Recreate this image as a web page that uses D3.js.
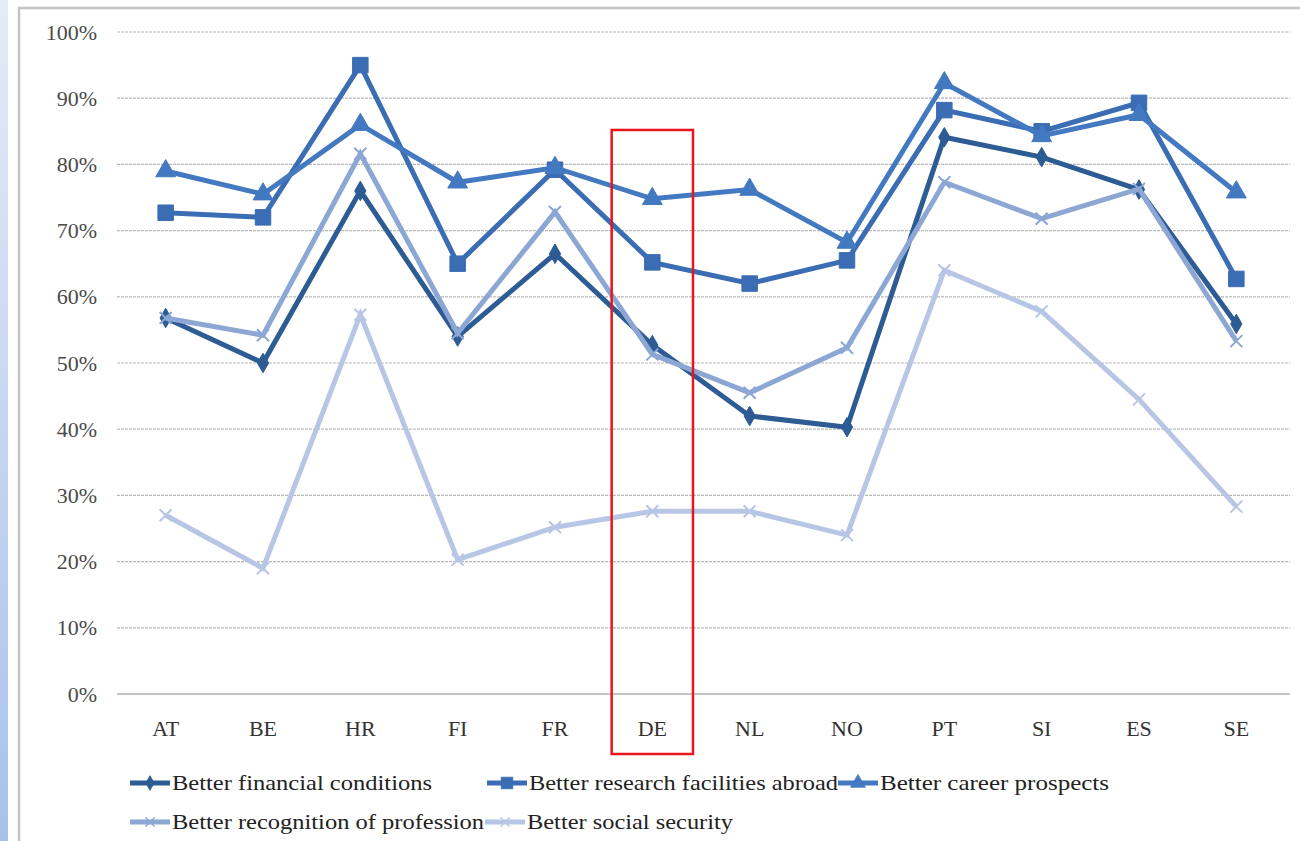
<!DOCTYPE html>
<html>
<head>
<meta charset="utf-8">
<script src="https://cdn.jsdelivr.net/npm/d3@7"></script>
<style>
  html, body { margin: 0; padding: 0; background: #fff; }
  svg { display: block; }
</style>
</head>
<body>
<svg id="chart" width="1300" height="841"></svg>
<script>
// Countries along the x axis
const countries = ["AT", "BE", "HR", "FI", "FR", "DE", "NL", "NO", "PT", "SI", "ES", "SE"];

// Share of respondents per motive (percent)
const financial   = [56.8, 50.0, 76.0, 54.0, 66.5, 52.7, 42.0, 40.3, 84.1, 81.1, 76.2, 55.9];
const research    = [72.7, 72.0, 95.0, 65.0, 79.2, 65.2, 62.0, 65.5, 88.2, 85.0, 89.3, 62.7];
const career      = [79.0, 75.5, 86.0, 77.3, 79.5, 74.8, 76.2, 68.2, 92.3, 84.3, 87.5, 75.8];
const recognition = [56.8, 54.2, 81.6, 54.5, 72.8, 51.3, 45.5, 52.3, 77.3, 71.8, 76.3, 53.3];
const social      = [27.0, 19.0, 57.3, 20.3, 25.2, 27.6, 27.6, 24.0, 64.0, 57.8, 44.5, 28.3];

const seriesNames = [
  "Better financial conditions",
  "Better research facilities abroad",
  "Better career prospects",
  "Better recognition of profession",
  "Better social security"
];
const yTicks = [0, 10, 20, 30, 40, 50, 60, 70, 80, 90, 100];
const highlighted = "DE";

// Pick the first installed serif face; fall back to the generic family
function pickFont(candidates, fallback) {
  const ctx = document.createElement("canvas").getContext("2d");
  const sample = "Better recognition of profession 100%";
  ctx.font = "40px monospace";
  const base = ctx.measureText(sample).width;
  for (const f of candidates) {
    ctx.font = `40px "${f}", monospace`;
    if (Math.abs(ctx.measureText(sample).width - base) > 0.5) return `"${f}", ${fallback}`;
  }
  return fallback;
}
const FONT = pickFont(["Liberation Serif", "Times New Roman", "Tinos", "DejaVu Serif", "Noto Serif", "FreeSerif", "Nimbus Roman"], "serif");

const series = [
  { name: seriesNames[0], values: financial,   color: "#2d5b93", marker: "diamond" },
  { name: seriesNames[1], values: research,    color: "#3a6db3", marker: "square" },
  { name: seriesNames[2], values: career,      color: "#4279c0", marker: "triangle" },
  { name: seriesNames[3], values: recognition, color: "#8ca7d4", marker: "cross" },
  { name: seriesNames[4], values: social,      color: "#b8c6e5", marker: "cross" }
];

const svg = d3.select("#chart");
const W = 1300, H = 841;

// Side strip and frame
const defs = svg.append("defs");
const grad = defs.append("linearGradient").attr("id", "strip")
  .attr("x1", 0).attr("y1", 0).attr("x2", 0).attr("y2", 1);
grad.append("stop").attr("offset", "0%").attr("stop-color", "#e4ebf7");
grad.append("stop").attr("offset", "100%").attr("stop-color", "#a9c1ea");
svg.append("rect").attr("x", 0).attr("y", 0).attr("width", 8).attr("height", H).attr("fill", "url(#strip)");
svg.append("path").attr("d", `M19,${H} V8 H${W}`)
  .attr("fill", "none").attr("stroke", "#c4c4c4").attr("stroke-width", 2.5);

const margin = { left: 117, right: 15, top: 32, bottom: 147 };
const x = d3.scaleBand().domain(countries).range([margin.left, W - margin.right]);
const y = d3.scaleLinear().domain([0, 100]).range([H - margin.bottom, margin.top]);
const cx = c => x(c) + x.bandwidth() / 2;

// Gridlines
svg.append("g").selectAll("line").data(yTicks.filter(t => t > 0)).join("line")
  .attr("x1", margin.left).attr("x2", W - margin.right + 5)
  .attr("y1", d => y(d)).attr("y2", d => y(d))
  .attr("stroke", "#b9b9b9").attr("stroke-width", 1.2).attr("stroke-dasharray", "3,1");

// Baseline
svg.append("line").attr("x1", margin.left).attr("x2", W - margin.right + 5)
  .attr("y1", y(0)).attr("y2", y(0)).attr("stroke", "#b0b0b0").attr("stroke-width", 1.5);

// Y axis labels
const yAxis = d3.axisLeft(y).tickValues(yTicks).tickFormat(d => d + "%").tickSize(0).tickPadding(20);
const gy = svg.append("g").attr("transform", `translate(${margin.left},0)`).call(yAxis);
gy.select(".domain").remove();
gy.selectAll("text").style("font-family", FONT).style("font-size", "22px").attr("fill", "#4a4a4a");

// X axis labels
const xAxis = d3.axisBottom(x).tickSize(0).tickPadding(26);
const gx = svg.append("g").attr("transform", `translate(0,${y(0)})`).call(xAxis);
gx.select(".domain").remove();
gx.selectAll("text").style("font-family", FONT).style("font-size", "22px").attr("fill", "#333");

// Marker shapes
function markerPath(kind) {
  switch (kind) {
    case "diamond":  return d3.symbol(d3.symbolDiamond, 110)();
    case "square":   return d3.symbol(d3.symbolSquare, 240)();
    case "triangle": return d3.symbol(d3.symbolTriangle, 170)();
    default:         return "M-6,-6L6,6M-6,6L6,-6";
  }
}

const line = d3.line().x((d, i) => cx(countries[i])).y(d => y(d));

const gs = svg.append("g").selectAll("g").data(series).join("g");
gs.append("path")
  .attr("d", d => line(d.values))
  .attr("fill", "none").attr("stroke", d => d.color)
  .attr("stroke-width", 5).attr("stroke-linejoin", "miter");
gs.each(function (s) {
  const g = d3.select(this);
  g.selectAll("path.m").data(s.values).join("path").attr("class", "m")
    .attr("transform", (d, i) => `translate(${cx(countries[i])},${y(d)})`)
    .attr("d", markerPath(s.marker))
    .attr("fill", s.marker === "cross" ? "none" : s.color)
    .attr("stroke", s.color)
    .attr("stroke-width", s.marker === "cross" ? 2 : 1);
});

// Legend: two rows, each entry = swatch line + marker + label
const legendItems = [
  { s: series[0], x: 130, y: 783, w: 260 },
  { s: series[1], x: 487, y: 783, w: 309 },
  { s: series[2], x: 838, y: 783, w: 229 },
  { s: series[3], x: 130, y: 822, w: 312 },
  { s: series[4], x: 485, y: 822, w: 206 }
];
const lg = svg.append("g").selectAll("g").data(legendItems).join("g")
  .attr("transform", d => `translate(${d.x},${d.y})`);
lg.append("line").attr("x1", 0).attr("x2", 40).attr("y1", 0).attr("y2", 0)
  .attr("stroke", d => d.s.color).attr("stroke-width", 5);
lg.append("path").attr("transform", "translate(20,0) scale(0.75)")
  .attr("d", d => markerPath(d.s.marker))
  .attr("fill", d => d.s.marker === "cross" ? "none" : d.s.color)
  .attr("stroke", d => d.s.color).attr("stroke-width", d => d.s.marker === "cross" ? 2 : 1);
lg.append("text").attr("x", 42).attr("y", 7)
  .style("font-family", FONT).style("font-size", "21px").attr("fill", "#222")
  .attr("textLength", d => d.w).attr("lengthAdjust", "spacingAndGlyphs")
  .text(d => d.s.name);

// Highlight box around the selected country
const pad = 8;
svg.append("rect")
  .attr("x", x(highlighted) + pad).attr("width", x.bandwidth() - 2 * pad)
  .attr("y", y(85.2)).attr("height", 754 - y(85.2))
  .attr("fill", "none").attr("stroke", "#e8151b").attr("stroke-width", 2.5);
</script>
</body>
</html>
